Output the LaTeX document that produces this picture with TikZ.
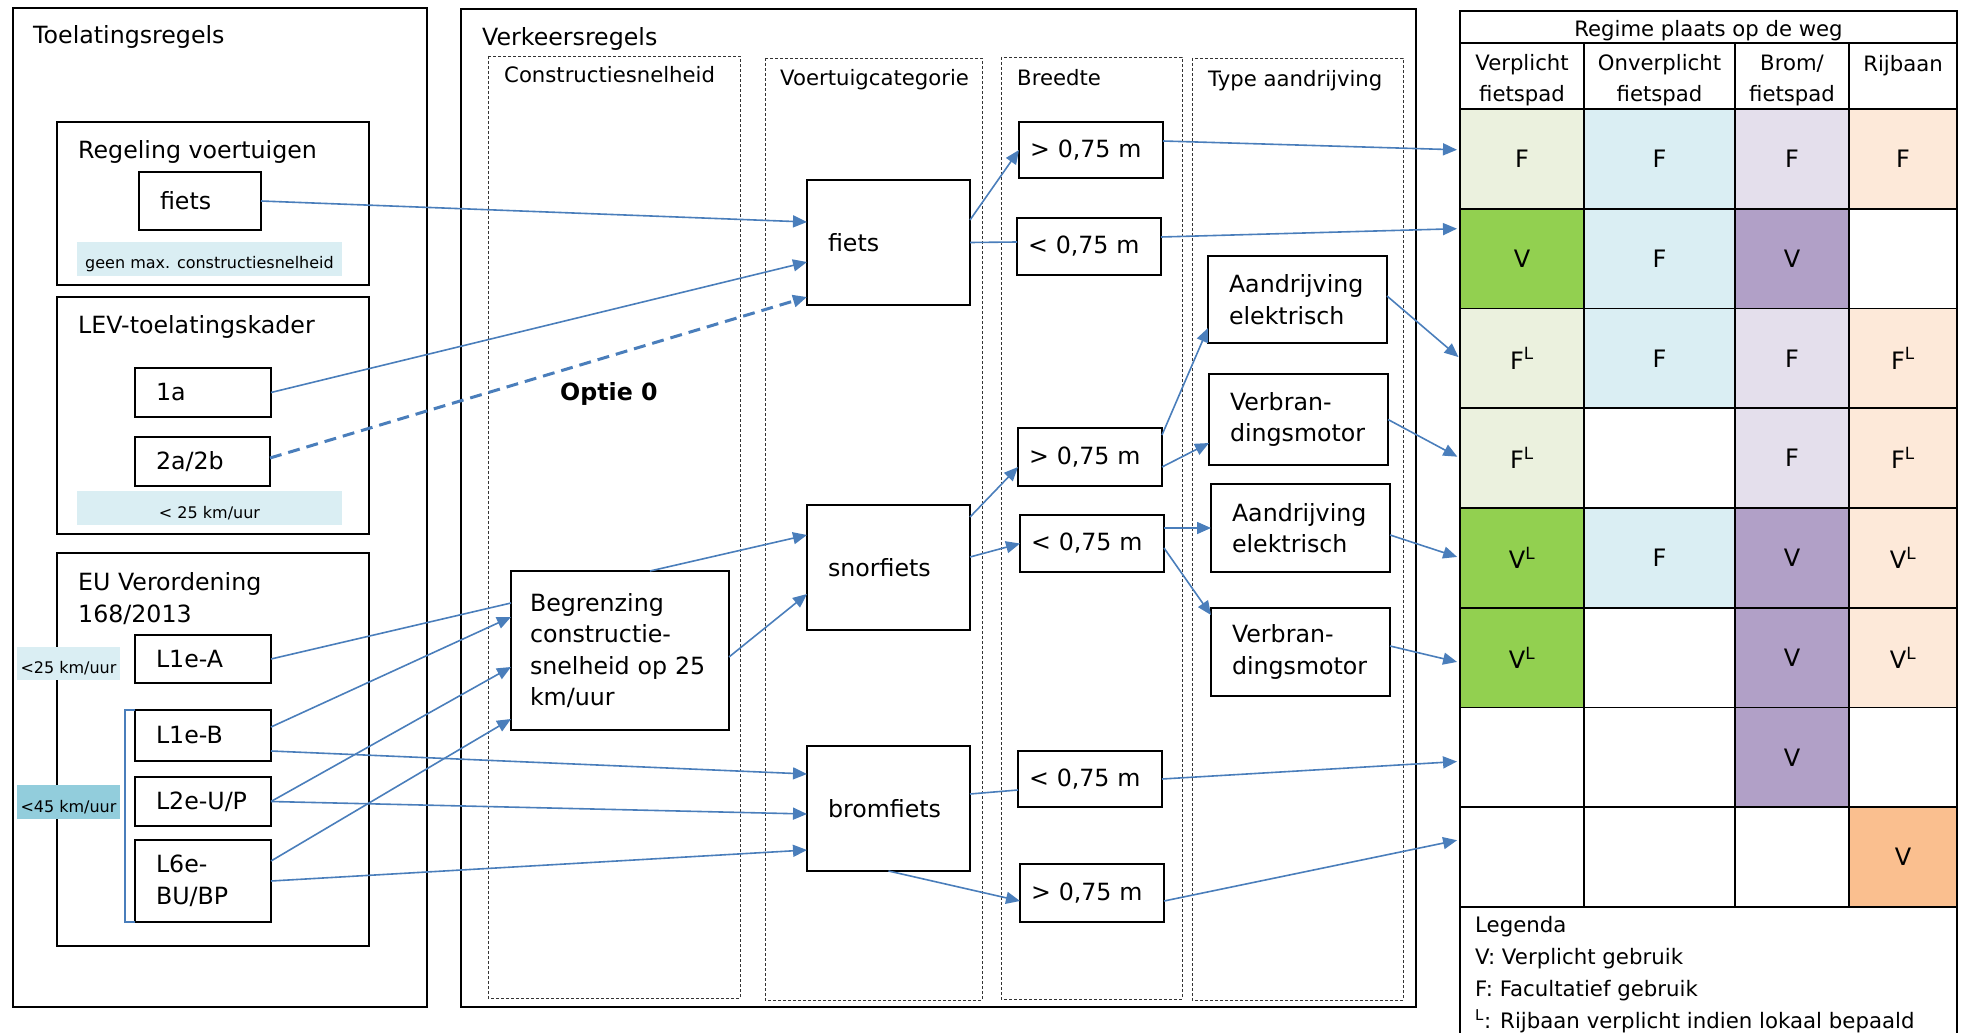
\documentclass[tikz,border=0pt]{standalone}
\usepackage{fontspec}
\setmainfont{DejaVu Sans}
\usetikzlibrary{arrows.meta}

\definecolor{pijlblauw}{HTML}{4A7EBB}
\definecolor{bandlicht}{HTML}{DAEEF3}
\definecolor{banddonker}{HTML}{92CDDC}
\definecolor{groenlicht}{HTML}{EBF1DE}
\definecolor{groen}{HTML}{92D050}
\definecolor{blauwlicht}{HTML}{DAEEF3}
\definecolor{paarslicht}{HTML}{E4DFEC}
\definecolor{paars}{HTML}{B1A0C7}
\definecolor{perziklicht}{HTML}{FDE9D9}
\definecolor{oranje}{HTML}{FABF8F}

\newcommand{\txtgroot}{\fontsize{23.7}{31.5}\selectfont}
\newcommand{\txtmidden}{\fontsize{21.2}{31.7}\selectfont}
\newcommand{\txtklein}{\fontsize{16}{19}\selectfont}
\newcommand{\FL}{F\textsuperscript{L}}
\newcommand{\VL}{V\textsuperscript{L}}

\begin{document}
\begin{tikzpicture}[x=1pt, y=-1pt, font=\txtgroot,
    frame/.style={draw, line width=1.8pt},
    kolom/.style={draw=black!80, line width=0.9pt, dash pattern=on 3pt off 2pt},
    titel/.style={anchor=base west, inner sep=0pt},
    kop/.style={anchor=base, inner sep=0pt, align=center, font=\txtmidden},
    box/.style={draw, line width=1.6pt, anchor=north west, outer sep=0pt, inner xsep=21pt, inner ysep=0pt, align=left},
    smal/.style={box, inner xsep=11pt, text width=122pt},
    band/.style={fill=bandlicht, inner xsep=0pt, inner ysep=0pt, anchor=base, font=\txtklein},
    pijl/.style={draw=pijlblauw, line width=1.6pt, -{Triangle[length=14pt,width=12pt]}},
    lijn/.style={draw=pijlblauw, line width=1.6pt},
    optie/.style={pijl, line width=3pt, dash pattern=on 12pt off 7pt},
    cel/.style={draw, line width=1.8pt, anchor=north west, outer sep=0pt, inner sep=0pt, minimum height=99.75pt, font=\fontsize{24}{28}\selectfont}]
\useasboundingbox (0,0) rectangle (1963,1033);

% Toelatingsregels
\draw[frame] (13,8) rectangle (427,1007);
\draw[frame] (57,122) rectangle (369,285);
\draw[frame] (57,297) rectangle (369,534);
\draw[frame] (57,553) rectangle (369,946);
\node[titel] (toel) at (33,44) {Toelatingsregels};
\node[titel] (regv) at (78,158) {Regeling voertuigen};
\node[titel] (lev) at (78,333) {LEV-toelatingskader};
\node[titel, align=left] (eu) at (78,622) {EU Verordening\\168/2013};

\node[band, minimum width=265pt, text height=26pt, text depth=8pt] (bgeen) at (209.5,268) {geen max. constructiesnelheid};
\node[band, minimum width=265pt, text height=27pt, text depth=7pt] (blev) at (209.5,518) {< 25 km/uur};
\node[band, minimum width=103pt, text height=26pt, text depth=7pt] (b25) at (68.5,673) {<25 km/uur};
\node[band, fill=banddonker, minimum width=103pt, text height=27pt, text depth=7pt] (b45) at (68.5,812) {<45 km/uur};

\node[box, text width=80pt, minimum height=58pt] (fietsl) at (139,172) {fiets};
\node[box, text width=94pt, minimum height=49pt] (lev1a) at (135,368) {1a};
\node[box, text width=93pt, minimum height=49pt] (lev2a) at (135,437) {2a/2b};
\node[box, text width=94pt, minimum height=48pt] (l1ea) at (135,635) {L1e-A};
\node[box, text width=94pt, minimum height=51pt] (l1eb) at (135,710) {L1e-B};
\node[box, text width=94pt, minimum height=49pt] (l2e) at (135,777) {L2e-U/P};
\node[box, text width=94pt, minimum height=82pt] (l6e) at (135,840) {L6e-\\BU/BP};
\draw[lijn, line width=2pt] (l1eb.north west) -- ++(-10,0) |- (l6e.south west);

% Verkeersregels
\draw[frame] (461,9) rectangle (1416,1007);
\node[titel] (verk) at (482,46) {Verkeersregels};
\draw[kolom] (488,56) rectangle (740,998);
\draw[kolom] (765,58) rectangle (982,1000);
\draw[kolom] (1001,57) rectangle (1182,999);
\draw[kolom] (1192,58) rectangle (1403,1000);
\node[titel, font=\txtmidden] (kconstr) at (504,83) {Constructiesnelheid};
\node[titel, font=\txtmidden] (kcat) at (780,85) {Voertuigcategorie};
\node[titel, font=\txtmidden] (kbreed) at (1017,85) {Breedte};
\node[titel, font=\txtmidden] (ktype) at (1208,86) {Type aandrijving};

\node[box, inner xsep=19pt, text width=180pt, minimum height=159pt] (begr) at (511,571) {Begrenzing\\constructie-\\snelheid op 25\\km/uur};
\node[box, text width=121pt, minimum height=125pt] (fietsm) at (807,180) {fiets};
\node[box, text width=121pt, minimum height=125pt] (snor) at (807,505) {snorfiets};
\node[box, text width=121pt, minimum height=125pt] (brom) at (807,746) {bromfiets};

\node[smal, minimum height=56pt] (bf1) at (1019,122) {> 0,75 m};
\node[smal, minimum height=57pt] (bf2) at (1017,218) {< 0,75 m};
\node[smal, minimum height=58pt] (bs1) at (1018,428) {> 0,75 m};
\node[smal, minimum height=57pt] (bs2) at (1020,515) {< 0,75 m};
\node[smal, minimum height=56pt] (bb1) at (1018,751) {< 0,75 m};
\node[smal, minimum height=58pt] (bb2) at (1020,864) {> 0,75 m};

\node[box, text width=137pt, minimum height=87pt] (ae1) at (1208,256) {Aandrijving\\elektrisch};
\node[box, text width=137pt, minimum height=91pt] (vm1) at (1209,374) {Verbran-\\dingsmotor};
\node[box, text width=137pt, minimum height=88pt] (ae2) at (1211,484) {Aandrijving\\elektrisch};
\node[box, text width=137pt, minimum height=88pt] (vm2) at (1211,608) {Verbran-\\dingsmotor};

\node[titel, font=\txtgroot\bfseries] (optie0) at (560,400) {Optie 0};

% Regime plaats op de weg
\node[cel, minimum width=497pt, minimum height=32pt, text height=22pt, text depth=2pt, font=\txtmidden] (regime) at (1460,11) {Regime plaats op de weg};
\node[cel, minimum width=124pt, minimum height=66pt] (kop1) at (1460,43) {};
\node[cel, minimum width=151pt, minimum height=66pt] (kop2) at (1584,43) {};
\node[cel, minimum width=114pt, minimum height=66pt] (kop3) at (1735,43) {};
\node[cel, minimum width=108pt, minimum height=66pt] (kop4) at (1849,43) {};
\node[kop] (kop1t) at (1522,102) {Verplicht\\fietspad};
\node[kop] (kop2t) at (1659.5,102) {Onverplicht\\fietspad};
\node[kop] (kop3t) at (1792,102) {Brom/\\fietspad};
\node[kop] (kop4t) at (1903,71) {Rijbaan};

\foreach \r/\ta/\ca/\tb/\cb/\tc/\cc/\td/\cd in {
    1/F/groenlicht/F/blauwlicht/F/paarslicht/F/perziklicht,
    2/V/groen/F/blauwlicht/V/paars/\mbox{}/white,
    3/\FL/groenlicht/F/blauwlicht/F/paarslicht/\FL/perziklicht,
    4/\FL/groenlicht/\mbox{}/white/F/paarslicht/\FL/perziklicht,
    5/\VL/groen/F/blauwlicht/V/paars/\VL/perziklicht,
    6/\VL/groen/\mbox{}/white/V/paars/\VL/perziklicht,
    7/\mbox{}/white/\mbox{}/white/V/paars/\mbox{}/white,
    8/\mbox{}/white/\mbox{}/white/\mbox{}/white/V/oranje} {
  \pgfmathsetmacro\ytop{109+(\r-1)*99.75}
  \node[cel, fill=\ca, minimum width=124pt] (rij\r) at (1460,\ytop) {\ta};
  \node[cel, fill=\cb, minimum width=151pt] (rij\r-2) at (1584,\ytop) {\tb};
  \node[cel, fill=\cc, minimum width=114pt] (rij\r-3) at (1735,\ytop) {\tc};
  \node[cel, fill=\cd, minimum width=108pt] (rij\r-4) at (1849,\ytop) {\td};
}
\draw[line width=1.8pt] (rij8.south west) -- ++(0,150);
\draw[line width=1.8pt] (rij8-4.south east) -- ++(0,150);
\node[titel, align=left, font=\fontsize{21.3}{31.7}\selectfont] (legenda) at (1475,1028) {Legenda\\V: Verplicht gebruik\\F: Facultatief gebruik\\\textsuperscript{L}: Rijbaan verplicht indien lokaal bepaald};

% verbindingen
\draw[pijl] (fietsl.east) -- ([yshift=20.5pt]fietsm.west);
\draw[pijl] (lev1a.east) -- ([yshift=-19.5pt]fietsm.west);
\draw[optie] ([yshift=3.5pt]lev2a.east) -- ([yshift=-54.5pt]fietsm.west);
\draw[lijn] (l1ea.east) -- ([yshift=47.5pt]begr.west);
\draw[pijl] ([yshift=8.5pt]l1eb.east) -- ([yshift=33.5pt]begr.west);
\draw[pijl] (l2e.east) -- ([yshift=-16.5pt]begr.west);
\draw[pijl] ([yshift=20pt]l6e.east) -- ([yshift=-68.5pt]begr.west);
\draw[pijl] ([yshift=-15.5pt]l1eb.east) -- ([yshift=34.5pt]brom.west);
\draw[pijl] (l2e.east) -- ([yshift=-5.5pt]brom.west);
\draw[pijl] (l6e.east) -- ([yshift=-41.5pt]brom.west);
\draw[pijl] ([xshift=30pt]begr.north) -- ([yshift=32.5pt]snor.west);
\draw[pijl] ([yshift=-6.5pt]begr.east) -- ([yshift=-26.5pt]snor.west);

\draw[pijl] ([yshift=22.5pt]fietsm.east) -- (bf1.west);
\draw[lijn] (fietsm.east) -- ([yshift=4.5pt]bf2.west);
\draw[pijl] ([yshift=50.5pt]snor.east) -- ([yshift=-10pt]bs1.west);
\draw[pijl] ([yshift=10.5pt]snor.east) -- (bs2.west);
\draw[lijn] ([yshift=14.5pt]brom.east) -- ([yshift=-11pt]bb1.west);
\draw[pijl] (brom.south) -- ([yshift=-8pt]bb2.west);

\draw[pijl] ([yshift=22pt]bs1.east) -- ([yshift=-28.5pt]ae1.west);
\draw[pijl] ([yshift=-10pt]bs1.east) -- ([yshift=-23.5pt]vm1.west);
\draw[pijl] ([yshift=15.5pt]bs2.east) -- (ae2.west);
\draw[pijl] ([yshift=-4.5pt]bs2.east) -- ([yshift=37pt]vm2.west);

\draw[pijl, shorten >=3pt] ([yshift=9pt]bf1.east) -- ([yshift=9pt]rij1.west);
\draw[pijl, shorten >=3pt] ([yshift=9.5pt]bf2.east) -- ([yshift=30pt]rij2.west);
\draw[pijl, shorten >=2pt] ([yshift=3.5pt]ae1.east) -- (rij3.west);
\draw[pijl, shorten >=3pt] (vm1.east) -- (rij4.west);
\draw[pijl, shorten >=3pt] ([yshift=-7pt]ae2.east) -- (rij5.west);
\draw[pijl, shorten >=3pt] ([yshift=6pt]vm2.east) -- ([yshift=-5pt]rij6.west);
\draw[pijl, shorten >=3pt] (bb1.east) -- ([yshift=-4pt]rij7.west);
\draw[pijl, shorten >=3pt] ([yshift=-8pt]bb2.east) -- ([yshift=17.5pt]rij8.west);
\end{tikzpicture}
\end{document}
